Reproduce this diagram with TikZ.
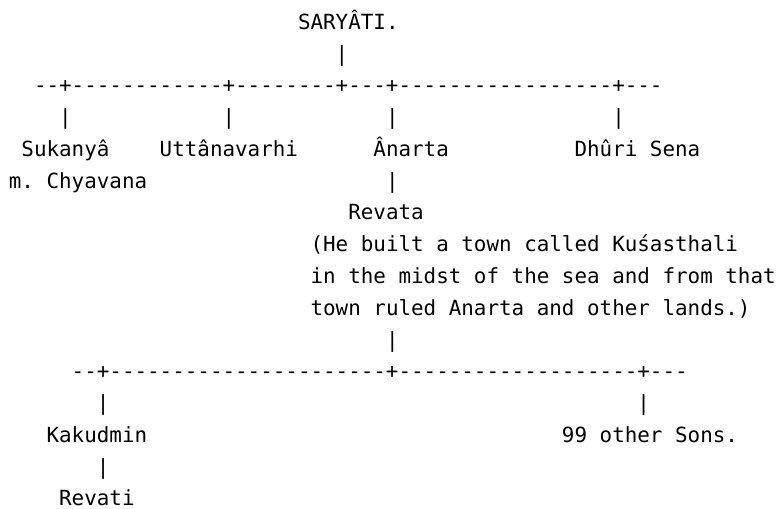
\documentclass[tikz,border=0pt]{standalone}
\usepackage{fontspec}
\setmonofont{DejaVu Sans Mono}
\tikzset{row/.style={anchor=base west, inner sep=0pt, font=\ttfamily\fontsize{20.88}{25}\selectfont}}

\begin{document}
\frenchspacing
\begin{tikzpicture}[x=12.57pt, y=31.75pt]
\useasboundingbox (-0.692, 0.929) rectangle (61.28, -15.071);
% first generation
\node[row] (saryati) at (23, 0) {SARYÂTI.};
\node[row] (bar0) at (26, -1) {|};
\node[row] (fork0) at (2, -2) {--+------------+--------+---+-----------------+---};
\node[row] (bar1) at (4, -3) {|};
\node[row] (bar2) at (17, -3) {|};
\node[row] (bar3) at (30, -3) {|};
\node[row] (bar4) at (48, -3) {|};
\node[row] (sukanya) at (1, -4) {Sukanyâ};
\node[row] (uttana) at (12, -4) {Uttânavarhi};
\node[row] (anarta) at (29, -4) {Ânarta};
\node[row] (dhuri) at (45, -4) {Dhûri Sena};
\node[row] (chyavana) at (0, -5) {m. Chyavana};
\node[row] (bar5) at (30, -5) {|};
% Revata and his town
\node[row] (revata) at (27, -6) {Revata};
\node[row] (note1) at (24, -7) {(He built a town called Kuśasthali};
\node[row] (note2) at (24, -8) {in the midst of the sea and from that};
\node[row] (note3) at (24, -9) {town ruled Anarta and other lands.)};
\node[row] (bar6) at (30, -10) {|};
\node[row] (fork1) at (5, -11) {--+----------------------+-------------------+---};
\node[row] (bar7) at (7, -12) {|};
\node[row] (bar8) at (50, -12) {|};
\node[row] (kakudmin) at (3, -13) {Kakudmin};
\node[row] (sons) at (44, -13) {99 other Sons.};
\node[row] (bar9) at (7, -14) {|};
\node[row] (revati) at (4, -15) {Revati};
\end{tikzpicture}
\end{document}
